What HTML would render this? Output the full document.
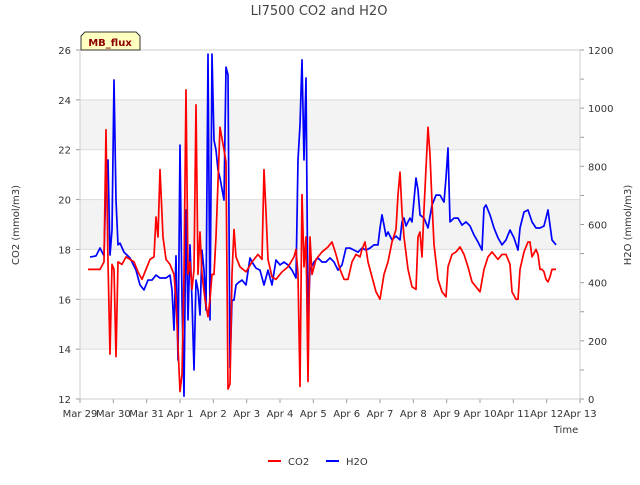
<!DOCTYPE html>
<html><head><meta charset="utf-8"><style>
body{margin:0;background:#fff;font-family:"Liberation Sans","DejaVu Sans",sans-serif}
svg text{font-family:"DejaVu Sans","Liberation Sans",sans-serif}
</style></head><body>
<svg id="chart" width="640" height="480" viewBox="0 0 640 480" xmlns="http://www.w3.org/2000/svg">
<rect x="0" y="0" width="640" height="480" fill="#fff"/>
<g id="bands"></g><g id="grid"></g><g id="axes"></g><g id="series"></g>
<text x="319" y="15" font-size="13" fill="#444" text-anchor="middle">LI7500 CO2 and H2O</text>
<text transform="translate(19,225) rotate(-90)" font-size="10" fill="#333" text-anchor="middle">CO2 (mmol/m3)</text>
<text transform="translate(631,225) rotate(-90)" font-size="10" fill="#333" text-anchor="middle">H2O (mmol/m3)</text>
<text x="566" y="433" font-size="10" fill="#333" text-anchor="middle">Time</text>
<g>
<path d="M81,50 L81,36 L85,32 L136,32 L140,36 L140,50 Z" fill="#ffffc0" stroke="#333" stroke-width="1"/>
<text x="110" y="46" font-size="10" font-weight="bold" fill="#8b0000" text-anchor="middle">MB_flux</text>
</g>
<g>
<g><line x1="268" y1="461" x2="281" y2="461" stroke="#f00" stroke-width="2"/><text x="288" y="465" font-size="10" fill="#333">CO2</text></g>
<g><line x1="326" y1="461" x2="339" y2="461" stroke="#00f" stroke-width="2"/><text x="346" y="465" font-size="10" fill="#333">H2O</text></g>
</g>
</svg>
<script>
const dateLabels=["Mar 29","Mar 30","Mar 31","Apr 1","Apr 2","Apr 3","Apr 4","Apr 5","Apr 6","Apr 7","Apr 8","Apr 9","Apr 10","Apr 11","Apr 12","Apr 13"];
const leftTicks=[12,14,16,18,20,22,24,26];
const rightTicks=[0,200,400,600,800,1000,1200];
const co2Times=[0.24,0.6,0.72,0.78,0.84,0.9,0.96,1.02,1.08,1.14,1.26,1.38,1.5,1.62,1.74,1.86,1.98,2.1,2.22,2.28,2.34,2.4,2.49,2.58,2.7,2.82,2.88,2.94,3.0,3.06,3.12,3.18,3.24,3.3,3.36,3.42,3.48,3.54,3.6,3.66,3.75,3.84,3.9,3.96,4.02,4.08,4.2,4.32,4.38,4.44,4.5,4.56,4.62,4.68,4.8,4.98,5.16,5.34,5.46,5.52,5.58,5.64,5.76,5.88,6.06,6.24,6.42,6.48,6.54,6.6,6.66,6.72,6.78,6.84,6.9,6.96,7.08,7.26,7.44,7.56,7.68,7.8,7.92,8.04,8.16,8.28,8.4,8.46,8.55,8.64,8.76,8.88,9.0,9.12,9.24,9.36,9.48,9.54,9.6,9.66,9.72,9.84,9.96,10.08,10.14,10.2,10.26,10.32,10.44,10.5,10.56,10.62,10.74,10.86,10.98,11.04,11.16,11.28,11.4,11.52,11.64,11.76,11.88,12.0,12.12,12.24,12.36,12.42,12.54,12.66,12.78,12.9,12.96,13.08,13.14,13.2,13.32,13.44,13.5,13.56,13.68,13.74,13.8,13.86,13.92,13.98,14.04,14.1,14.16,14.28];
const co2Values=[17.2,17.2,17.5,22.8,17.5,13.8,17.4,17.2,13.7,17.5,17.4,17.7,17.6,17.5,17.1,16.8,17.2,17.6,17.7,19.3,18.5,21.2,18.5,17.6,17.4,17.0,16.0,14.1,12.3,13.0,17.0,24.4,17.0,17.5,16.4,17.2,23.8,17.0,18.7,17.0,16.0,15.3,16.0,17.0,17.0,18.5,22.9,22.0,21.5,12.4,12.6,17.0,18.8,17.7,17.3,17.1,17.5,17.8,17.6,21.2,19.5,17.6,16.9,16.8,17.1,17.3,17.7,18.0,17.0,12.5,20.2,17.3,18.5,12.7,18.5,17.0,17.6,17.9,18.1,18.3,17.8,17.2,16.8,16.8,17.5,17.8,17.7,18.0,18.3,17.5,16.9,16.3,16.0,17.0,17.5,18.3,18.8,20.2,21.1,19.5,18.5,17.2,16.5,16.4,18.5,18.7,17.7,19.6,22.9,21.8,19.9,18.2,16.8,16.3,16.1,17.3,17.8,17.9,18.1,17.8,17.3,16.7,16.5,16.3,17.2,17.7,17.9,17.8,17.6,17.8,17.8,17.4,16.3,16.0,16.0,17.2,17.9,18.3,18.3,17.7,18.0,17.8,17.2,17.2,17.1,16.8,16.7,16.9,17.2,17.2];
const h2oTimes=[0.3,0.48,0.6,0.72,0.78,0.84,0.9,0.96,1.02,1.08,1.14,1.2,1.32,1.5,1.68,1.8,1.92,2.04,2.16,2.28,2.4,2.58,2.7,2.76,2.82,2.88,2.94,3.0,3.06,3.12,3.18,3.24,3.3,3.36,3.42,3.48,3.54,3.6,3.66,3.72,3.78,3.84,3.9,3.96,4.02,4.08,4.14,4.2,4.32,4.38,4.44,4.5,4.56,4.62,4.68,4.74,4.86,4.98,5.1,5.16,5.28,5.4,5.52,5.64,5.76,5.88,6.0,6.12,6.24,6.36,6.48,6.54,6.6,6.66,6.72,6.78,6.84,6.9,7.02,7.14,7.26,7.38,7.5,7.62,7.74,7.86,7.98,8.1,8.22,8.34,8.46,8.58,8.7,8.82,8.94,9.0,9.06,9.12,9.18,9.24,9.36,9.48,9.6,9.66,9.72,9.78,9.84,9.9,9.96,10.02,10.08,10.14,10.2,10.32,10.44,10.56,10.68,10.8,10.92,10.98,11.04,11.1,11.22,11.34,11.46,11.58,11.7,11.82,11.94,12.06,12.12,12.18,12.3,12.42,12.54,12.66,12.78,12.9,13.02,13.14,13.2,13.32,13.44,13.56,13.68,13.8,13.92,13.98,14.04,14.1,14.16,14.28];
const h2oValues=[488,492,519,492,753,822,495,581,1097,684,530,536,505,485,443,392,375,409,409,426,416,416,426,375,237,492,134,873,340,10,650,272,530,340,100,409,375,289,512,443,306,1186,272,1186,890,856,787,760,684,1141,1114,107,340,340,392,399,409,392,485,471,450,443,392,443,392,478,461,471,461,443,416,822,942,1166,822,1104,272,443,471,485,471,471,485,471,443,461,519,519,512,505,519,512,519,530,530,588,633,598,560,574,547,560,547,609,622,595,609,622,609,684,760,719,633,622,588,667,701,701,677,760,863,609,622,622,598,609,595,564,540,512,657,667,633,588,554,530,547,581,554,512,588,643,650,609,588,588,595,622,650,598,547,530];

const L=80,R=580,T=50,B=399;
const xs=t=>L+(R-L)*t/15;
const yL=v=>B-(B-T)*(v-12)/14;
const yR=v=>B-(B-T)*v/1200;
const NS="http://www.w3.org/2000/svg";
function mk(tag,attrs,parent){const e=document.createElementNS(NS,tag);for(const k in attrs)e.setAttribute(k,attrs[k]);document.getElementById(parent).appendChild(e);return e;}

for(let i=0;i<leftTicks.length-1;i++){
  if(i%2===1){
    const r=mk('rect',{x:L,y:yL(leftTicks[i+1]),width:R-L,height:yL(leftTicks[i])-yL(leftTicks[i+1]),fill:'#f3f3f3'},'bands');
    
    
  }
}
leftTicks.forEach(v=>{
  const g=mk('line',{x1:L,x2:R,y1:yL(v),y2:yL(v),stroke:'#dcdcdc','stroke-width':1},'grid');
  
  
  const tk=mk('line',{x1:L-4,x2:L,y1:yL(v),y2:yL(v),stroke:'#999'},'axes');
  
  
  const t=mk('text',{x:L-9,y:yL(v)+4,'font-size':10,fill:'#333','text-anchor':'end'},'axes');
  t.textContent=v;
  
  
});
for(let v=0;v<=1200;v+=100){
  const tk=mk('line',{x1:R,x2:R+4,y1:yR(v),y2:yR(v),stroke:'#999'},'axes');
  
  
}
rightTicks.forEach(v=>{
  const t=mk('text',{x:R+8,y:yR(v)+4,'font-size':10,fill:'#333'},'axes');
  t.textContent=v;
  
  
});
dateLabels.forEach((d,i)=>{
  const tk=mk('line',{x1:xs(i),x2:xs(i),y1:B,y2:B+4,stroke:'#999'},'axes');
  
  
  const t=mk('text',{x:xs(i),y:B+18,'font-size':10,fill:'#333','text-anchor':'middle'},'axes');
  t.textContent=d;
  
  
});
const frame=mk('rect',{x:L,y:T,width:R-L,height:B-T,fill:'none',stroke:'#ccc'},'axes');



const h=mk('polyline',{points:h2oTimes.map((t,i)=>xs(t)+','+yR(h2oValues[i])).join(' '),fill:'none',stroke:'#0000ff','stroke-width':1.7,'stroke-linejoin':'round'},'series');


const c=mk('polyline',{points:co2Times.map((t,i)=>xs(t)+','+yL(co2Values[i])).join(' '),fill:'none',stroke:'#ff0000','stroke-width':1.7,'stroke-linejoin':'round'},'series');


</script>
</body></html>
